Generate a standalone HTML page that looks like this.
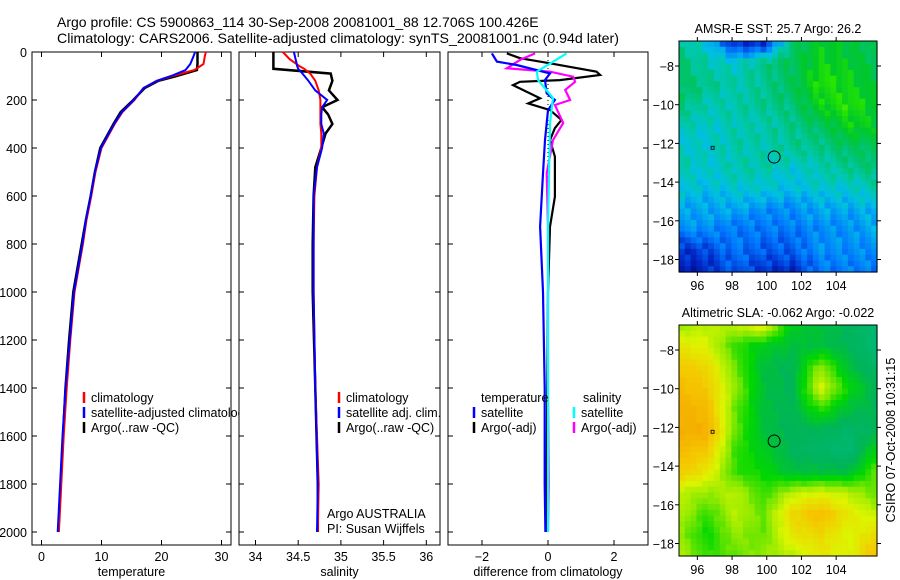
<!DOCTYPE html>
<html><head><meta charset="utf-8"><style>
html,body{margin:0;padding:0;background:#fff;}
svg{display:block;font-family:"Liberation Sans",sans-serif;}
</style></head><body>
<svg id="fig" width="900" height="580" viewBox="0 0 900 580">
<g font-size="14">
<text x="57" y="27">Argo profile: CS 5900863_114 30-Sep-2008 20081001_88 12.706S 100.426E</text>
<text x="57" y="43" textLength="562" lengthAdjust="spacingAndGlyphs">Climatology: CARS2006. Satellite-adjusted climatology: synTS_20081001.nc (0.94d later)</text>
</g>
</svg>
<script>
// ---------- data ----------
const tDepth=[0,20,50,75,100,120,150,200,250,300,400,500,600,700,800,1000,1200,1400,1600,1800,2000];
const tArgo=[26.0,26.0,26.0,25.9,22.5,19.5,17.2,15.3,13.2,12.0,9.8,8.9,8.2,7.4,6.7,5.3,4.6,4.0,3.6,3.2,2.8];
const tClim=[27.4,27.2,27.0,25.5,21.8,19.3,17.0,15.5,13.5,12.2,10.0,9.0,8.3,7.5,6.9,5.5,4.8,4.2,3.7,3.3,2.9];
const tSat=[25.6,25.3,24.8,24.0,21.6,19.2,17.0,15.4,13.4,12.1,9.9,8.9,8.2,7.4,6.8,5.4,4.7,4.0,3.5,3.1,2.7];
const sDepth=[0,30,60,70,90,120,160,200,230,260,300,340,400,480,600,800,1000,1400,1800,2000];
const sArgo=[34.21,34.21,34.21,34.21,34.88,34.9,34.86,34.96,34.78,34.85,34.9,34.82,34.77,34.7,34.68,34.67,34.67,34.7,34.73,34.73];
const sClim=[34.32,34.4,34.52,34.57,34.64,34.7,34.74,34.76,34.76,34.76,34.76,34.77,34.77,34.72,34.69,34.68,34.68,34.7,34.74,34.73];
const sSat=[34.45,34.47,34.49,34.5,34.55,34.62,34.7,34.84,34.78,34.77,34.77,34.8,34.78,34.72,34.68,34.68,34.68,34.7,34.73,34.72];
const dDepthA=[6,26,47,82,96,117,124,138,193,214,242,283,317,367,436,603,728,1000,1400,1800,2000];
const dTempArgo=[-1.25,-0.85,0.06,1.47,1.58,0.36,-0.85,-1.06,-0.24,-0.6,0.06,0.41,0.21,0.06,0.21,0.21,0.06,0.0,-0.02,-0.05,-0.03];
const dDepthB=[6,40,54,89,117,172,200,242,367,506,728,1000,1400,1800,2000];
const dTempSat=[-1.7,-1.55,-0.95,0.06,-0.09,-0.04,0.21,0,-0.09,-0.15,-0.24,-0.15,-0.1,-0.1,-0.08];
const dDepthC=[6,33,68,82,103,124,158,200,221,296,367,506,728,1000,1400,1800,2000];
const dSalArgo=[-0.39,-0.85,-1.25,0.06,0.76,0.82,0.52,0.67,0.21,0.46,0.15,-0.04,0,0,0,0.02,0];
const dDepthD=[6,82,117,192,296,728,1000,1400,1800,2000];
const dSalSat=[0.56,-0.34,-0.3,0.15,0.06,0,0,0,0,0];
const depthTicks=[0,200,400,600,800,1000,1200,1400,1600,1800,2000];
const tTicks=[0,10,20,30];
const sTicks=[34,34.5,35,35.5,36];
const dTicks=[-2,0,2];
const lonTicks=[96,98,100,102,104];
const latTicks=[-8,-10,-12,-14,-16,-18];
const sstGrid=[
[0.6,0.45,0.1,0.1,0.65,0.8,0.75,0.7],
[0.65,0.55,0.5,0.6,0.7,0.85,0.8,0.7],
[0.7,0.6,0.55,0.6,0.7,0.9,0.85,0.75],
[0.65,0.55,0.55,0.6,0.65,0.85,0.9,0.8],
[0.55,0.5,0.55,0.55,0.6,0.7,0.85,0.8],
[0.5,0.5,0.55,0.55,0.6,0.6,0.7,0.7],
[0.55,0.5,0.55,0.55,0.5,0.55,0.6,0.65],
[0.5,0.45,0.5,0.5,0.45,0.5,0.5,0.55],
[0.4,0.4,0.4,0.35,0.35,0.4,0.4,0.45],
[0.35,0.35,0.3,0.3,0.3,0.35,0.35,0.4],
[0.15,0.2,0.3,0.25,0.25,0.35,0.35,0.35],
[0.1,0.15,0.25,0.15,0.15,0.3,0.3,0.3]];
const slaGrid=[
[0.55,0.6,0.6,0.7,0.35,0.3,0.25,0.15],
[0.7,0.65,0.45,0.35,0.3,0.3,0.25,0.15],
[0.8,0.75,0.5,0.3,0.25,0.55,0.3,0.2],
[0.85,0.8,0.55,0.3,0.25,0.65,0.4,0.25],
[0.9,0.85,0.5,0.3,0.25,0.45,0.3,0.25],
[0.9,0.9,0.5,0.3,0.25,0.25,0.2,0.25],
[0.85,0.8,0.45,0.35,0.25,0.2,0.15,0.4],
[0.8,0.7,0.45,0.4,0.3,0.3,0.3,0.5],
[0.6,0.55,0.6,0.45,0.6,0.65,0.6,0.5],
[0.6,0.45,0.6,0.5,0.75,0.85,0.7,0.6],
[0.55,0.4,0.55,0.5,0.7,0.75,0.65,0.75],
[0.6,0.45,0.5,0.55,0.6,0.7,0.65,0.85]];
const argoLon=100.426, argoLat=-12.706;

// ---------- helpers ----------
const NS="http://www.w3.org/2000/svg";
const svg=document.getElementById('fig');
function el(tag,attrs,parent,text){const e=document.createElementNS(NS,tag);for(const k in attrs)e.setAttribute(k,attrs[k]);if(text!==undefined)e.textContent=text;(parent||svg).appendChild(e);return e;}
const yD=d=>52+d*0.24;
const Y0=52,Y1=545;

function panel(name,x0,x1,xs,ticks,fmt,xlabel,showDepth){
  const g=el('g',{});
  
  
  const fr=el('rect',{x:x0,y:Y0,width:x1-x0,height:Y1-Y0,fill:'#fff',stroke:'#000','stroke-width':1},g);
  
  
  depthTicks.forEach(d=>{
    el('line',{x1:x0,x2:x0+5,y1:yD(d),y2:yD(d),stroke:'#000'},g);
    el('line',{x1:x1-5,x2:x1,y1:yD(d),y2:yD(d),stroke:'#000'},g);
    if(showDepth){const t=el('text',{x:x0-5,y:yD(d)+5,'font-size':12.5,'text-anchor':'end'},g,String(d));
      
      }
  });
  ticks.forEach(v=>{
    el('line',{x1:xs(v),x2:xs(v),y1:Y0,y2:Y0+5,stroke:'#000'},g);
    el('line',{x1:xs(v),x2:xs(v),y1:Y1-5,y2:Y1,stroke:'#000'},g);
    const t=el('text',{x:xs(v),y:561,'font-size':12.5,'text-anchor':'middle'},g,fmt(v));
    
    
  });
  const xl=el('text',{x:(x0+x1)/2,y:576,'font-size':12.5,'text-anchor':'middle'},g,xlabel);
  
  
  return g;
}
function line(g,name,xs,vals,depths,color,w){
  const pts=vals.map((v,i)=>xs(v).toFixed(1)+','+yD(depths[i]).toFixed(1)).join(' ');
  const p=el('polyline',{points:pts,fill:'none',stroke:color,'stroke-width':w||2,'stroke-linejoin':'miter'},g);
  
  
}
function legend(g,x,y,color,label,name){
  const m=el('line',{x1:x,x2:x,y1:y-10,y2:y+1,stroke:color,'stroke-width':2.5},g);
  
  
  if(label){const t=el('text',{x:x+7,y:y,'font-size':12.5},g,label);
  
  }
}

// ---------- panel 1: temperature ----------
const xT=v=>41.5+v*6;
const g1=panel('temperature-panel',32,231,xT,tTicks,v=>String(v),'temperature',true);
line(g1,'temp-argo-line',xT,tArgo,tDepth,'#000',2.5);
line(g1,'temp-clim-line',xT,tClim,tDepth,'#f00',2);
line(g1,'temp-sat-line',xT,tSat,tDepth,'#00f',2);
legend(g1,84,402,'#f00','climatology','legend-climatology');
legend(g1,84,417,'#00f','satellite-adjusted climatology','legend-satellite');
legend(g1,84,432,'#000','Argo(..raw -QC)','legend-argo');

// ---------- panel 2: salinity ----------
const xS=v=>255.5+(v-34)*85.4;
const g2=panel('salinity-panel',239,440,xS,sTicks,v=>String(v),'salinity',false);
line(g2,'sal-argo-line',xS,sArgo,sDepth,'#000',2.5);
line(g2,'sal-clim-line',xS,sClim,sDepth,'#f00',2);
line(g2,'sal-sat-line',xS,sSat,sDepth,'#00f',2);
legend(g2,339,402,'#f00','climatology','legend-sal-climatology');
legend(g2,339,417,'#00f','satellite adj. clim.','legend-sal-satellite');
legend(g2,339,432,'#000','Argo(..raw -QC)','legend-sal-argo');
[['Argo AUSTRALIA',518,'institution-label'],['PI: Susan Wijffels',533,'pi-label']].forEach(a=>{
  const t=el('text',{x:327,y:a[1],'font-size':12.5},g2,a[0]);
  
  
});

// ---------- panel 3: differences ----------
const xDf=v=>548+v*33;
const g3=panel('difference-panel',448,648,xDf,dTicks,v=>v<0?'\u2212'+(-v):String(v),'difference from climatology',false);
const zl=el('line',{x1:xDf(0),x2:xDf(0),y1:Y0,y2:yD(2000),stroke:'#000','stroke-dasharray':'1,3'},g3);


line(g3,'diff-temp-argo-line',xDf,dTempArgo,dDepthA,'#000',2.2);
line(g3,'diff-sal-argo-line',xDf,dSalArgo,dDepthC,'#f0f',2.2);
line(g3,'diff-temp-sat-line',xDf,dTempSat,dDepthB,'#00f',2.2);
line(g3,'diff-sal-sat-line',xDf,dSalSat,dDepthD,'#0ff',2.2);
[['temperature',481,'legend-temperature-header'],['salinity',583,'legend-salinity-header']].forEach(a=>{
  const t=el('text',{x:a[1],y:402,'font-size':12.5},g3,a[0]);
  
  
});
legend(g3,474,417,'#00f','satellite','legend-diff-temp-sat');
legend(g3,474,432,'#000','Argo(-adj)','legend-diff-temp-argo');
legend(g3,574,417,'#0ff','satellite','legend-diff-sal-sat');
legend(g3,574,432,'#f0f','Argo(-adj)','legend-diff-sal-argo');

// ---------- maps ----------
function cmap(stops,v){
  v=Math.max(0,Math.min(1,v));
  for(let i=1;i<stops.length;i++){if(v<=stops[i][0]){const a=stops[i-1],b=stops[i],t=(v-a[0])/(b[0]-a[0]);
    return 'rgb('+[1,2,3].map(k=>Math.round(a[k]+(b[k]-a[k])*t)).join(',')+')';}}
  const l=stops[stops.length-1];return 'rgb('+l[1]+','+l[2]+','+l[3]+')';
}
const sstStops=[[0,0,0,120],[0.15,0,40,200],[0.3,0,120,255],[0.45,0,190,230],[0.55,0,200,170],[0.65,0,195,110],[0.8,0,200,40],[0.92,40,230,0],[1,170,240,0]];
const slaStops=[[0,0,190,150],[0.25,0,180,90],[0.4,0,215,0],[0.55,150,235,0],[0.65,220,245,0],[0.8,245,200,0],[1,245,150,0]];
function sample(grid,fx,fy){
  const R=grid.length,C=grid[0].length;
  const gx=Math.max(0,Math.min(C-1.001,fx*(C-1))),gy=Math.max(0,Math.min(R-1.001,fy*(R-1)));
  const i=Math.floor(gy),j=Math.floor(gx),ty=gy-i,tx=gx-j;
  return grid[i][j]*(1-tx)*(1-ty)+grid[i][j+1]*tx*(1-ty)+grid[i+1][j]*(1-tx)*ty+grid[i+1][j+1]*tx*ty;
}
function map(name,top,grid,stops,title,noise){
  const X0=679,X1=877,bot=top+231;
  const g=el('g',{});
  
  
  const lonX=l=>680+(l-95)*17.35;
  const latY=l=>top+25-(l+8)*19.35;
  const nx=34,ny=40,cw=(X1-X0)/nx,ch=(bot-top)/ny;
  for(let r=0;r<ny;r++)for(let c=0;c<nx;c++){
    let v=sample(grid,(c+0.5)/nx,(r+0.5)/ny);
    if(noise) v+=(((c*73+r*151)%17)/17-0.5)*noise;
    el('rect',{x:(X0+c*cw).toFixed(2),y:(top+r*ch).toFixed(2),width:(cw+0.6).toFixed(2),height:(ch+0.6).toFixed(2),fill:cmap(stops,v)},g);
  }
  const fr=el('rect',{x:X0,y:top,width:X1-X0,height:bot-top,fill:'none',stroke:'#000'},g);
  
  
  lonTicks.forEach(l=>{
    el('line',{x1:lonX(l),x2:lonX(l),y1:top-4,y2:top,stroke:'#000'},g);
    el('line',{x1:lonX(l),x2:lonX(l),y1:bot,y2:bot+4,stroke:'#000'},g);
    const t=el('text',{x:lonX(l),y:bot+18,'font-size':12.5,'text-anchor':'middle'},g,String(l));
    
    
  });
  latTicks.forEach(l=>{
    el('line',{x1:X0-4,x2:X0,y1:latY(l),y2:latY(l),stroke:'#000'},g);
    el('line',{x1:X1,x2:X1+4,y1:latY(l),y2:latY(l),stroke:'#000'},g);
    const t=el('text',{x:X0-5,y:latY(l)+5,'font-size':12.5,'text-anchor':'end'},g,'\u2212'+(-l));
    
    
  });
  const c=el('circle',{cx:lonX(argoLon),cy:latY(argoLat),r:6,fill:'none',stroke:'#000'},g);
  
  
  el('rect',{x:lonX(96.85)-1,y:latY(-12.2)-1,width:3,height:3,fill:'none',stroke:'#000','stroke-width':0.8},g);
  const t=el('text',{x:(X0+X1)/2,y:top-8,'font-size':12.5,'text-anchor':'middle'},g,title);
  
  
}
map('sst-map',41,sstGrid,sstStops,'AMSR-E SST: 25.7 Argo: 26.2',0.12);
map('sla-map',325,slaGrid,slaStops,'Altimetric SLA: -0.062 Argo: -0.022',0.03);
const cs=el('text',{x:0,y:0,'font-size':12.5,'text-anchor':'middle',transform:'translate(895,440) rotate(-90)'});


cs.textContent='CSIRO 07-Oct-2008 10:31:15';
</script>
</body></html>
